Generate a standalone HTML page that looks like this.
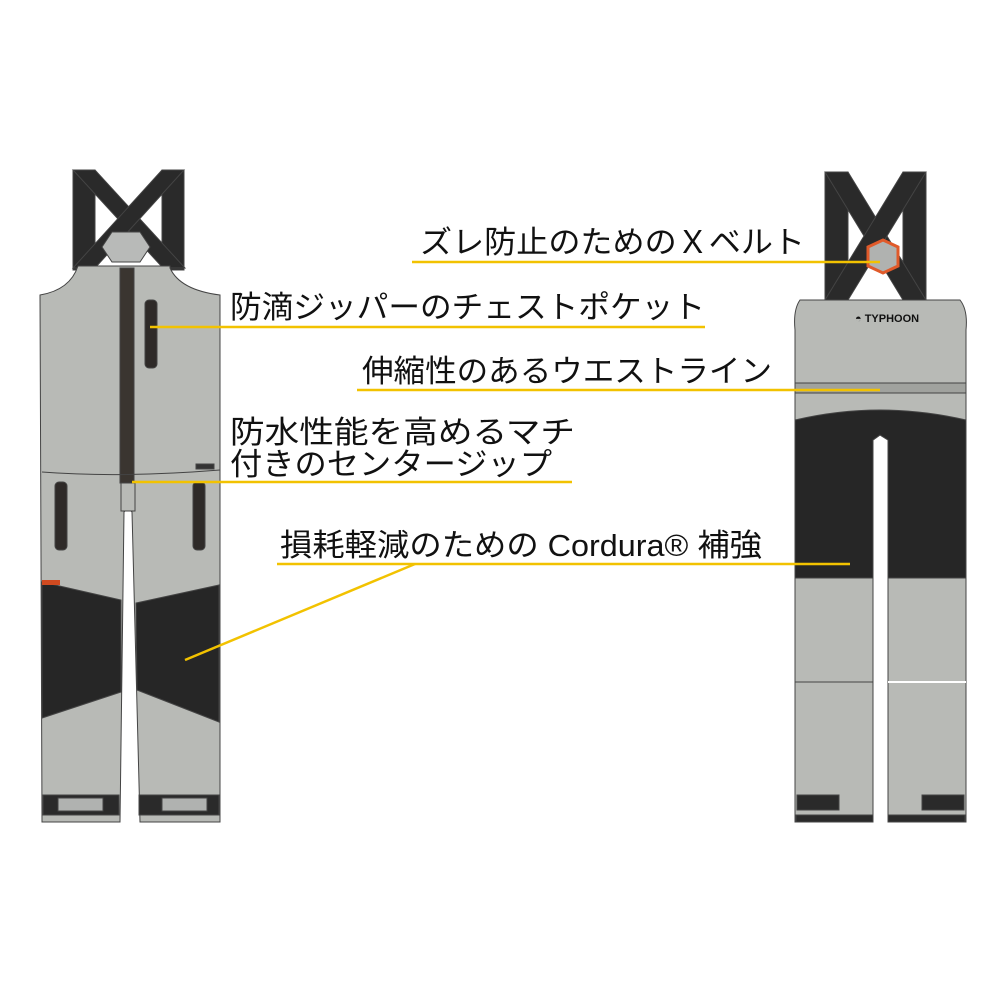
<!DOCTYPE html>
<html><head><meta charset="utf-8"><style>
html,body{margin:0;padding:0;background:#fff}
svg{display:block}
text{font-family:"Liberation Sans","Noto Sans CJK JP",sans-serif;font-size:31px;fill:#111;font-weight:400}
</style></head><body>
<svg width="1000" height="1000" viewBox="0 0 1000 1000" xmlns="http://www.w3.org/2000/svg">
<g stroke="#444" stroke-width="1">
<!-- LEFT GARMENT -->
<rect x="73" y="170" width="22" height="100" fill="#2a2a2a"/>
<rect x="162" y="170" width="22" height="100" fill="#2a2a2a"/>
<polygon points="73,170 95,170 185,268 163,268" fill="#2a2a2a"/>
<polygon points="162,170 184,170 95,268 73,268" fill="#2a2a2a"/>
<polygon points="112,232 140,232 150,247 140,262 112,262 102,247" fill="#b8bab8"/>
<path d="M78,266 L170,266 L170,268 Q180,290 220,295 L220,822 L140,822 L132,512 L128,508 L124,512 L120,822 L42,822 L40,295 Q70,290 78,266 Z" fill="#b8bab6"/>
<polygon points="42,582 121,600 121,692 42,718" fill="#262626"/>
<polygon points="136,603 219,585 219,722 137,690" fill="#262626"/>
<rect x="42" y="580" width="18" height="5" fill="#d04a20" stroke="none"/>
<rect x="120" y="268" width="14" height="215" fill="#3a3530"/>
<rect x="121" y="483" width="14" height="28" fill="#b8bab6"/>
<path d="M42,472 Q120,478 220,470" fill="none"/>
<rect x="145" y="300" width="12" height="68" rx="4" fill="#2e2a28"/>
<rect x="55" y="482" width="12" height="68" rx="4" fill="#2e2a28"/>
<rect x="193" y="482" width="12" height="68" rx="4" fill="#2e2a28"/>
<rect x="196" y="464" width="18" height="5" fill="#333"/>
<rect x="43" y="795" width="76" height="20" fill="#2a2a2a"/>
<rect x="139" y="795" width="80" height="20" fill="#2a2a2a"/>
<rect x="58" y="798" width="45" height="13" fill="#b0b2b0"/>
<rect x="162" y="798" width="45" height="13" fill="#b0b2b0"/>

<!-- RIGHT GARMENT -->
<rect x="825" y="172" width="23" height="128" fill="#2a2a2a"/>
<rect x="903" y="172" width="23" height="128" fill="#2a2a2a"/>
<polygon points="825,172 848,172 926,300 903,300" fill="#2a2a2a"/>
<polygon points="903,172 926,172 848,300 825,300" fill="#2a2a2a"/>
<polygon points="868,247 883,240 898,247 898,266 883,273 868,266" fill="#b0b2b0" stroke="#e05a2a" stroke-width="3"/>
<path d="M800,300 L960,300 Q968,310 966,330 L966,822 L888,822 L888,440 L880,435 L873,440 L873,822 L795,822 L795,330 Q793,310 800,300 Z" fill="#b8bab6"/>
<rect x="795" y="383" width="171" height="10" fill="#a0a29e"/>
<path d="M795,420 Q880,400 966,420 L966,578 L888,578 L888,440 L880,435 L873,440 L873,578 L795,578 Z" fill="#262626"/>
<line x1="795" y1="682" x2="873" y2="682"/>
<line x1="888" y1="682" x2="966" y2="682" stroke="#fff" stroke-width="2"/>
<rect x="797" y="795" width="42" height="15" fill="#2a2a2a"/>
<rect x="922" y="795" width="42" height="15" fill="#2a2a2a"/>
<rect x="796" y="815" width="77" height="7" fill="#2a2a2a"/>
<rect x="888" y="815" width="77" height="7" fill="#2a2a2a"/>
</g>
<text x="855" y="322" style="font-size:11px;font-weight:bold" fill="#222">◓ TYPHOON</text>

<g stroke="#f2c200" stroke-width="2.5" fill="none">
<line x1="412" y1="262" x2="880" y2="262"/>
<line x1="150" y1="327" x2="705" y2="327"/>
<line x1="357" y1="390" x2="880" y2="390"/>
<line x1="132" y1="482" x2="572" y2="482"/>
<line x1="277" y1="564" x2="850" y2="564"/>
<line x1="415" y1="564" x2="185" y2="660"/>
</g>

<text x="420" y="253" textLength="385" lengthAdjust="spacingAndGlyphs">ズレ防止のためのＸベルト</text>
<text x="230" y="318" textLength="475" lengthAdjust="spacingAndGlyphs">防滴ジッパーのチェストポケット</text>
<text x="362" y="382" textLength="410" lengthAdjust="spacingAndGlyphs">伸縮性のあるウエストライン</text>
<text x="230" y="443" textLength="345" lengthAdjust="spacingAndGlyphs">防水性能を高めるマチ</text>
<text x="230" y="475" textLength="322" lengthAdjust="spacingAndGlyphs">付きのセンタージップ</text>
<text x="280" y="556" textLength="482" lengthAdjust="spacingAndGlyphs">損耗軽減のための Cordura® 補強</text>
</svg>
</body></html>
